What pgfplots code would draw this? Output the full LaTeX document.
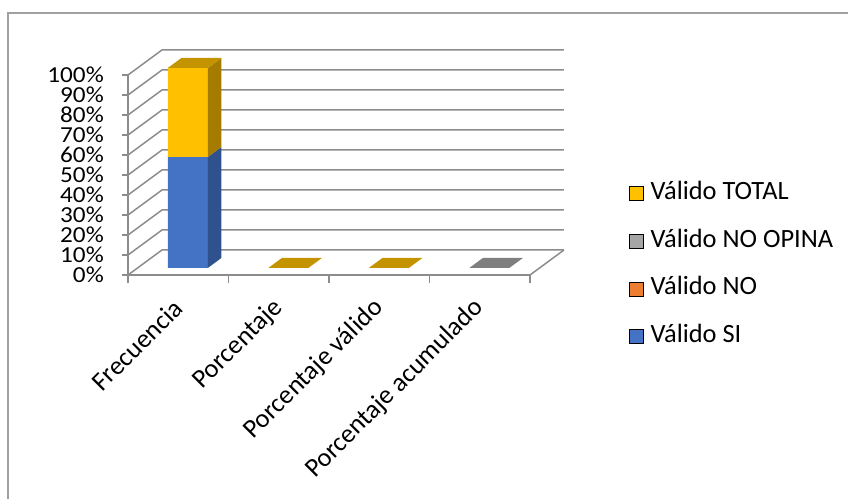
\documentclass[border=0pt]{standalone}
\usepackage{pgfplots}
\pgfplotsset{compat=1.18}
\usepackage{fontspec}
\setmainfont{Carlito}
\definecolor{cSI}{HTML}{4472C4}
\definecolor{cSIside}{HTML}{2F528F}
\definecolor{cNO}{HTML}{ED7D31}
\definecolor{cNOP}{HTML}{A5A5A5}
\definecolor{cTOT}{HTML}{FFC000}
\definecolor{cTOTside}{HTML}{A67C00}
\definecolor{cTOTtop}{HTML}{C49400}
\definecolor{cGrayTop}{HTML}{7F7F7F}
\definecolor{gridc}{HTML}{8C8C8C}
\definecolor{borderc}{HTML}{A0A0A0}
\begin{document}
\begin{tikzpicture}
\path[use as bounding box] (0,0) rectangle (848bp,499bp);
\draw[color=borderc, line width=1.5bp] (8bp,-20bp) -- (8bp,486bp) -- (870bp,486bp);
\begin{axis}[
 at={(128bp,224bp)}, anchor=south west,
 scale only axis, width=402bp, height=200bp,
 xmin=0, xmax=4, ymin=0, ymax=100,
 clip=false,
 /pgf/number format/assume math mode=true,
 axis x line*=bottom, axis y line*=left,
 axis line style={draw=gridc, line width=1.5bp, -},
 tick align=outside,
 xtick={0.5,1.5,2.5,3.5},
 xticklabels={Frecuencia,Porcentaje,Porcentaje válido,Porcentaje acumulado},
 major x tick style={draw=none},
 minor xtick={0,1,2,3,4},
 minor tick length=8bp,
 major tick length=6bp,
 tick style={draw=gridc, line width=1.5bp},
 ytick={0,10,...,100},
 yticklabel={\fontsize{23}{23}\selectfont\pgfmathprintnumber{\tick}\%},
 yticklabel style={anchor=east, inner sep=0pt, xshift=-18bp, xscale=1.1},
 xticklabel style={font=\fontsize{26.5}{26.5}\selectfont, yshift=-23bp, rotate=45, anchor=east, inner sep=0pt},
 legend image code/.code={\fill[#1] (0bp,-7bp) rectangle (14bp,7bp);},
 legend style={at={(rel axis cs:1.2463,0.05)}, anchor=west, draw=none, fill=none,
   font=\fontsize{26.5}{26.5}\selectfont, inner sep=0pt, row sep=21.7bp, column sep=7bp,
   nodes={inner sep=0pt, text height=19bp, text depth=7bp}, cells={anchor=west}},
]
\addlegendimage{fill=cTOT}\addlegendentry{Válido TOTAL}
\addlegendimage{fill=cNOP}\addlegendentry{Válido NO OPINA}
\addlegendimage{fill=cNO}\addlegendentry{Válido NO}
\addlegendimage{fill=cSI}\addlegendentry{Válido SI}
% walls: left-wall diagonals and back-wall horizontals
\addplot[gridc, line width=1.5bp, forget plot] coordinates {(0,0) (0.338,12.5) (4.338,12.5)};
\addplot[gridc, line width=1.5bp, forget plot] coordinates {(0,10) (0.338,22.5) (4.338,22.5)};
\addplot[gridc, line width=1.5bp, forget plot] coordinates {(0,20) (0.338,32.5) (4.338,32.5)};
\addplot[gridc, line width=1.5bp, forget plot] coordinates {(0,30) (0.338,42.5) (4.338,42.5)};
\addplot[gridc, line width=1.5bp, forget plot] coordinates {(0,40) (0.338,52.5) (4.338,52.5)};
\addplot[gridc, line width=1.5bp, forget plot] coordinates {(0,50) (0.338,62.5) (4.338,62.5)};
\addplot[gridc, line width=1.5bp, forget plot] coordinates {(0,60) (0.338,72.5) (4.338,72.5)};
\addplot[gridc, line width=1.5bp, forget plot] coordinates {(0,70) (0.338,82.5) (4.338,82.5)};
\addplot[gridc, line width=1.5bp, forget plot] coordinates {(0,80) (0.338,92.5) (4.338,92.5)};
\addplot[gridc, line width=1.5bp, forget plot] coordinates {(0,90) (0.338,102.5) (4.338,102.5)};
\addplot[gridc, line width=1.5bp, forget plot] coordinates {(0,100) (0.338,112.5) (4.338,112.5)};
\addplot[gridc, line width=1.5bp, forget plot] coordinates {(4,0) (4.338,12.5)};
% Frecuencia: Valido SI = 55.5 %, Valido TOTAL = 44.5 % (base of bar at depth offset 3.5)
\addplot[fill=cSI, draw=none, forget plot] coordinates {(0.396,3.5) (0.794,3.5) (0.794,59) (0.396,59) (0.396,3.5)};
\addplot[fill=cSIside, draw=none, forget plot] coordinates {(0.794,3.5) (0.929,8.5) (0.929,64) (0.794,59) (0.794,3.5)};
\addplot[fill=cTOT, draw=none, forget plot] coordinates {(0.396,59) (0.794,59) (0.794,103.5) (0.396,103.5) (0.396,59)};
\addplot[fill=cTOTside, draw=none, forget plot] coordinates {(0.794,59) (0.929,64) (0.929,108.5) (0.794,103.5) (0.794,59)};
\addplot[fill=cTOTtop, draw=none, forget plot] coordinates {(0.396,103.5) (0.794,103.5) (0.929,108.5) (0.531,108.5) (0.396,103.5)};
% zero-height categories: only the top face shows
\addplot[fill=cTOTtop, draw=none, forget plot] coordinates {(1.396,3.5) (1.794,3.5) (1.929,8.5) (1.531,8.5) (1.396,3.5)};
\addplot[fill=cTOTtop, draw=none, forget plot] coordinates {(2.396,3.5) (2.794,3.5) (2.929,8.5) (2.531,8.5) (2.396,3.5)};
\addplot[fill=cGrayTop, draw=none, forget plot] coordinates {(3.396,3.5) (3.794,3.5) (3.929,8.5) (3.531,8.5) (3.396,3.5)};
\end{axis}
\end{tikzpicture}
\end{document}
